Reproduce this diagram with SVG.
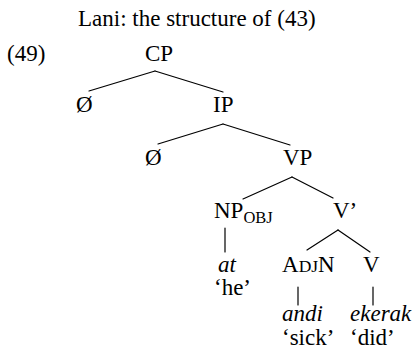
<svg xmlns="http://www.w3.org/2000/svg" width="412" height="357" viewBox="0 0 412 357">
  <style>
    text { font-family: "Liberation Serif", "Times New Roman", serif; font-size: 23px; fill: #000; }
    .it { font-style: italic; }
    .sub { font-size: 16.5px; }
    .sc { font-size: 17.5px; }
    .edge { stroke: #000; stroke-width: 1.2; fill: none; stroke-linecap: round; }
  </style>

  <rect width="412" height="357" fill="#fff"/>

  <text id="title" x="78" y="26">Lani: the structure of (43)</text>
  <text id="exnum" x="7" y="61">(49)</text>

  <!-- tree branches -->
  <g id="connectors">
    <line class="edge" x1="155" y1="71" x2="89" y2="91"/>
    <line class="edge" x1="155" y1="71" x2="223" y2="92"/>
    <line class="edge" x1="223" y1="124" x2="158" y2="144"/>
    <line class="edge" x1="223" y1="124" x2="290" y2="145"/>
    <line class="edge" x1="292" y1="177" x2="243" y2="199"/>
    <line class="edge" x1="292" y1="177" x2="333" y2="198"/>
    <line class="edge" x1="338" y1="230" x2="307" y2="250"/>
    <line class="edge" x1="338" y1="230" x2="370" y2="252"/>
    <line class="edge" x1="225" y1="228" x2="225" y2="252"/>
    <line class="edge" x1="298" y1="287" x2="298" y2="305"/>
    <line class="edge" x1="373" y1="287" x2="373" y2="305"/>
  </g>

  <g id="cp"><text x="145" y="61">CP</text></g>
  <g id="c-null"><text x="76" y="112">Ø</text></g>
  <g id="ip"><text x="213" y="112">IP</text></g>
  <g id="i-null"><text x="145" y="165">Ø</text></g>
  <g id="vp"><text x="283" y="165">VP</text></g>
  <g id="np-obj"><text x="214" y="218">NP<tspan class="sub" dy="5">OBJ</tspan></text></g>
  <g id="v-bar"><text x="333" y="218">V’</text></g>
  <g id="np-word">
    <text class="it" x="218" y="272">at</text>
    <text x="214" y="295">‘he’</text>
  </g>
  <g id="adjn"><text x="282" y="272">A<tspan class="sc">DJ</tspan>N</text></g>
  <g id="v"><text x="363" y="272">V</text></g>
  <g id="adjn-word">
    <text class="it" x="282" y="321">andi</text>
    <text x="282" y="345">‘sick’</text>
  </g>
  <g id="v-word">
    <text class="it" x="350" y="321">ekerak</text>
    <text x="350" y="345">‘did’</text>
  </g>
</svg>
